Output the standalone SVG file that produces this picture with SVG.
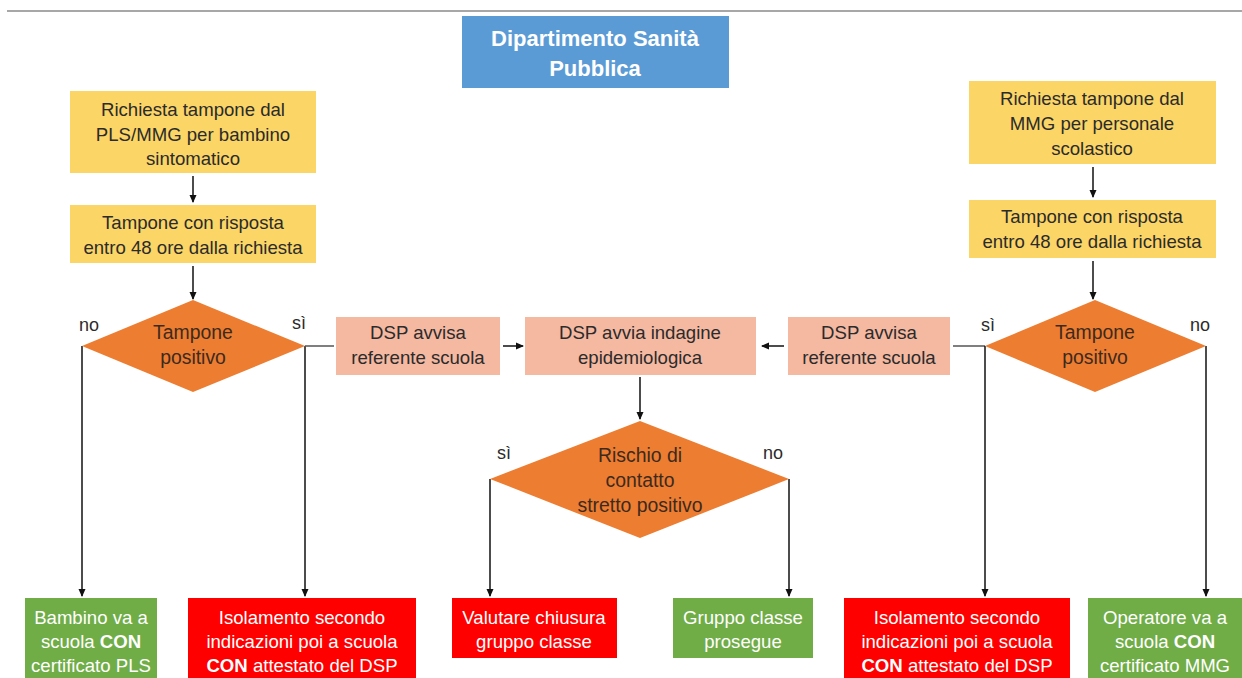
<svg xmlns="http://www.w3.org/2000/svg" width="1242" height="678" viewBox="0 0 1242 678">
  <defs>
    <marker id="arrow" markerWidth="8" markerHeight="8" refX="7" refY="4" orient="auto" markerUnits="userSpaceOnUse">
      <path d="M0,0.5 L8,4 L0,7.5 Z" fill="#111"/>
    </marker>
    <style>
      text { font-family: "Liberation Sans", Arial, sans-serif; font-size: 18.6px; text-anchor: middle; }
      .dark { fill: #2b2b2b; }
      .brown { fill: #3d2a1e; font-size: 19.4px; }
      .white { fill: #ffffff; }
      .head { font-size: 22px; font-weight: bold; }
      .lbl { fill: #2b2b2b; text-anchor: start; font-size: 18px; }
      .b { font-weight: bold; }
      .yellow { fill: #FBD566; }
      .pink { fill: #F5B8A1; }
      .orange { fill: #ED7D31; }
      .green { fill: #70AD47; }
      .red { fill: #FF0000; }
      .blue { fill: #5B9BD5; }
      .flow { stroke: #111; stroke-width: 1.5; fill: none; }
      .link { stroke: #555; stroke-width: 1.5; fill: none; }
    </style>
  </defs>

  <rect width="1242" height="678" fill="#ffffff"/>
  <!-- top rule -->
  <line x1="7" y1="11" x2="1242" y2="11" stroke="#8a8a8a" stroke-width="1.5"/>

  <!-- connectors -->
  <g id="connectors">
    <line class="flow" x1="193" y1="176" x2="193" y2="202" marker-end="url(#arrow)"/>
    <line class="flow" x1="193" y1="266" x2="193" y2="299" marker-end="url(#arrow)"/>
    <line class="flow" x1="1093" y1="167" x2="1093" y2="197" marker-end="url(#arrow)"/>
    <line class="flow" x1="1093" y1="261" x2="1093" y2="299" marker-end="url(#arrow)"/>

    <polyline class="flow" points="82,346 82,596" marker-end="url(#arrow)"/>
    <polyline class="flow" points="305,346 305,596" marker-end="url(#arrow)"/>
    <line class="link" x1="305" y1="346" x2="334" y2="346"/>
    <line class="flow" x1="503" y1="346" x2="523" y2="346" marker-end="url(#arrow)"/>

    <line class="link" x1="985" y1="346" x2="953" y2="346"/>
    <line class="flow" x1="784" y1="346" x2="762" y2="346" marker-end="url(#arrow)"/>
    <polyline class="flow" points="985,346 985,596" marker-end="url(#arrow)"/>
    <polyline class="flow" points="1206,346 1206,596" marker-end="url(#arrow)"/>

    <line class="flow" x1="640" y1="377" x2="640" y2="419" marker-end="url(#arrow)"/>
    <polyline class="flow" points="490,479 490,596" marker-end="url(#arrow)"/>
    <polyline class="flow" points="789,479 789,596" marker-end="url(#arrow)"/>
  </g>

  <!-- header -->
  <g id="dsp-header">
    <rect class="blue" x="462" y="16" width="267" height="72"/>
    <text class="white head" x="595" y="46">Dipartimento Sanità</text>
    <text class="white head" x="595" y="76">Pubblica</text>
  </g>

  <!-- left branch -->
  <g id="req-bambino">
    <rect class="yellow" x="70" y="91" width="246" height="82"/>
    <text class="dark" x="193" y="116">Richiesta tampone dal</text>
    <text class="dark" x="193" y="141">PLS/MMG per bambino</text>
    <text class="dark" x="193" y="165">sintomatico</text>
  </g>
  <g id="tampone-left">
    <rect class="yellow" x="70" y="205" width="246" height="58"/>
    <text class="dark" x="193" y="229">Tampone con risposta</text>
    <text class="dark" x="193" y="254">entro 48 ore dalla richiesta</text>
  </g>
  <g id="positivo-left">
    <polygon class="orange" points="193,300 305,346 193,392 82,346"/>
    <text class="brown" x="193" y="339">Tampone</text>
    <text class="brown" x="193" y="364">positivo</text>
    <text class="lbl" x="79" y="331">no</text>
    <text class="lbl" x="292" y="329">sì</text>
  </g>
  <g id="avvisa-left">
    <rect class="pink" x="336" y="317" width="164" height="58"/>
    <text class="dark" x="418" y="339">DSP avvisa</text>
    <text class="dark" x="418" y="364">referente scuola</text>
  </g>

  <!-- centre -->
  <g id="indagine">
    <rect class="pink" x="525" y="317" width="231" height="58"/>
    <text class="dark" x="640" y="339">DSP avvia indagine</text>
    <text class="dark" x="640" y="364">epidemiologica</text>
  </g>
  <g id="rischio">
    <polygon class="orange" points="640,421 789,479 640,538 490,479"/>
    <text class="brown" x="640" y="462">Rischio di</text>
    <text class="brown" x="640" y="487">contatto</text>
    <text class="brown" x="640" y="512">stretto positivo</text>
    <text class="lbl" x="497" y="459">sì</text>
    <text class="lbl" x="763" y="459">no</text>
  </g>

  <!-- right branch -->
  <g id="req-personale">
    <rect class="yellow" x="969" y="81" width="247" height="83"/>
    <text class="dark" x="1092" y="105">Richiesta tampone dal</text>
    <text class="dark" x="1092" y="130">MMG per personale</text>
    <text class="dark" x="1092" y="155">scolastico</text>
  </g>
  <g id="tampone-right">
    <rect class="yellow" x="969" y="200" width="247" height="58"/>
    <text class="dark" x="1092" y="223">Tampone con risposta</text>
    <text class="dark" x="1092" y="248">entro 48 ore dalla richiesta</text>
  </g>
  <g id="positivo-right">
    <polygon class="orange" points="1095,300 1206,346 1095,392 985,346"/>
    <text class="brown" x="1095" y="339">Tampone</text>
    <text class="brown" x="1095" y="364">positivo</text>
    <text class="lbl" x="981" y="331">sì</text>
    <text class="lbl" x="1190" y="331">no</text>
  </g>
  <g id="avvisa-right">
    <rect class="pink" x="788" y="317" width="162" height="58"/>
    <text class="dark" x="869" y="339">DSP avvisa</text>
    <text class="dark" x="869" y="364">referente scuola</text>
  </g>

  <!-- outcomes -->
  <g id="bambino-scuola">
    <rect class="green" x="25" y="598" width="132" height="80"/>
    <text class="white" x="91" y="624">Bambino va a</text>
    <text class="white" x="91" y="648">scuola <tspan class="b">CON</tspan></text>
    <text class="white" x="91" y="672">certificato PLS</text>
  </g>
  <g id="isolamento-left">
    <rect class="red" x="188" y="598" width="228" height="80"/>
    <text class="white" x="302" y="624">Isolamento secondo</text>
    <text class="white" x="302" y="648">indicazioni poi a scuola</text>
    <text class="white" x="302" y="672"><tspan class="b">CON</tspan> attestato del DSP</text>
  </g>
  <g id="chiusura">
    <rect class="red" x="452" y="598" width="165" height="60"/>
    <text class="white" x="534" y="624">Valutare chiusura</text>
    <text class="white" x="534" y="648">gruppo classe</text>
  </g>
  <g id="prosegue">
    <rect class="green" x="673" y="598" width="140" height="60"/>
    <text class="white" x="743" y="624">Gruppo classe</text>
    <text class="white" x="743" y="648">prosegue</text>
  </g>
  <g id="isolamento-right">
    <rect class="red" x="844" y="598" width="226" height="80"/>
    <text class="white" x="957" y="624">Isolamento secondo</text>
    <text class="white" x="957" y="648">indicazioni poi a scuola</text>
    <text class="white" x="957" y="672"><tspan class="b">CON</tspan> attestato del DSP</text>
  </g>
  <g id="operatore-scuola">
    <rect class="green" x="1088" y="598" width="154" height="80"/>
    <text class="white" x="1165" y="624">Operatore va a</text>
    <text class="white" x="1165" y="648">scuola <tspan class="b">CON</tspan></text>
    <text class="white" x="1165" y="672">certificato MMG</text>
  </g>
</svg>
